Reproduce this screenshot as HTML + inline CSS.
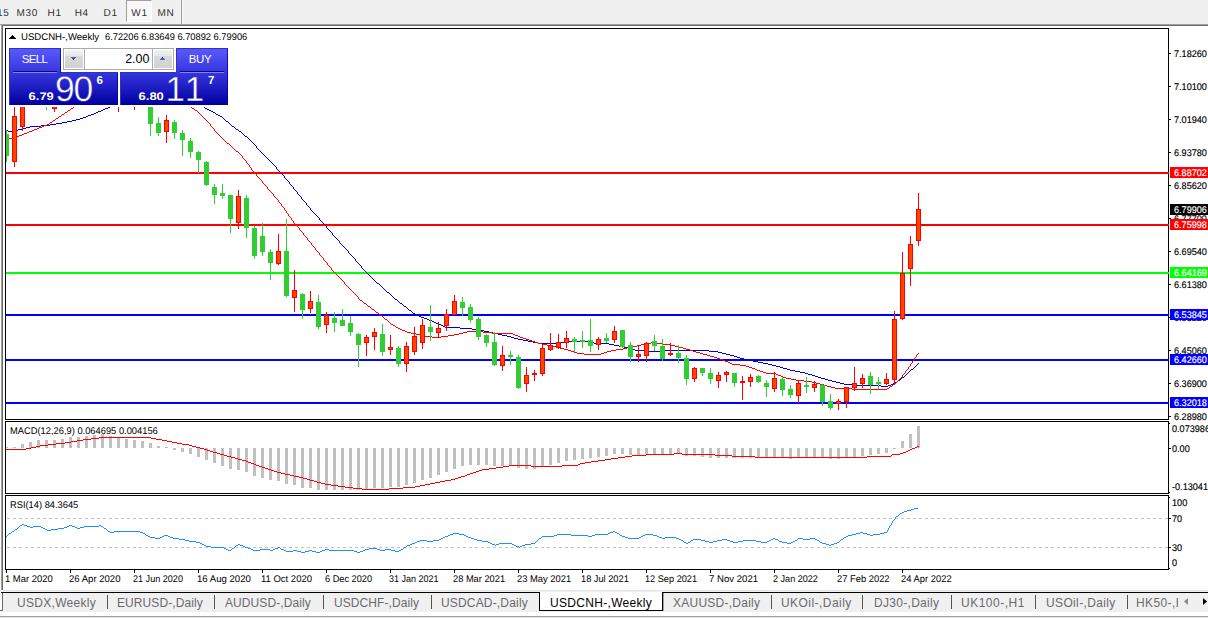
<!DOCTYPE html>
<html lang="en"><head><meta charset="utf-8"><title>USDCNH-,Weekly</title>
<style>
html,body{margin:0;padding:0;}
body{width:1208px;height:618px;overflow:hidden;background:#fff;position:relative;font-family:"Liberation Sans",sans-serif;color:#000;}
.abs{position:absolute;}
.t{position:absolute;white-space:nowrap;line-height:11px;height:11px;font-size:9.7px;transform-origin:0 0;transform:scaleX(0.96);text-rendering:geometricPrecision;margin-top:1px;}
.ax{font-size:9.7px;transform:scaleX(0.94);-webkit-text-stroke:0.15px;}
#toolbar{position:absolute;left:0;top:0;width:1208px;height:24px;background:#f0f0f0;}
.tf{position:absolute;top:8px;letter-spacing:0.7px;font-size:10px;line-height:12px;color:#303030;white-space:nowrap;text-rendering:geometricPrecision;}
.tab{position:absolute;top:596px;height:15px;line-height:15px;font-size:12px;color:#6a6a6e;white-space:nowrap;}
.sep{position:absolute;top:595px;width:1px;height:14px;background:#555;}
.lab{position:absolute;left:1170px;width:38px;height:11px;}
.lab span{position:absolute;left:4px;top:1px;font-size:9.7px;line-height:11px;color:#fff;white-space:nowrap;transform-origin:0 0;transform:scaleX(0.94);text-rendering:geometricPrecision;-webkit-text-stroke:0.15px;}
svg{position:absolute;left:0;top:0;}
</style></head><body>
<div id="toolbar">
<div class="abs" style="left:126px;top:0;width:26px;height:22px;background:#f8f8f8;border-left:1px solid #a0a0a0;border-top:1px solid #a0a0a0;box-sizing:border-box;border-right:1px solid #fff;border-bottom:1px solid #fff;"></div>
<div class="tf" style="left:-3px;">15</div>
<div class="tf" style="left:16.5px;">M30</div>
<div class="tf" style="left:47.5px;">H1</div>
<div class="tf" style="left:74.7px;">H4</div>
<div class="tf" style="left:103.6px;">D1</div>
<div class="tf" style="left:131.3px;">W1</div>
<div class="tf" style="left:157.6px;">MN</div>
<div class="abs" style="left:181px;top:0;width:1px;height:24px;background:#a0a0a0;"></div>
<div class="abs" style="left:182px;top:0;width:1px;height:24px;background:#f8f8f8;"></div>
</div>
<div class="abs" style="left:0;top:24px;width:1208px;height:1px;background:#a0a0a0;"></div>
<div class="abs" style="left:1px;top:25px;width:1207px;height:1px;background:#696969;"></div>
<div class="abs" style="left:0;top:25px;width:1px;height:587px;background:#fbfbfb;"></div>
<div class="abs" style="left:1px;top:25px;width:1px;height:565px;background:#a0a0a0;"></div>
<div class="abs" style="left:2px;top:25px;width:1px;height:565px;background:#696969;"></div>
<div class="abs" style="left:0;top:590px;width:3px;height:2px;background:#f0f0f0;"></div>
<div class="abs" style="left:2px;top:593px;width:1px;height:18px;background:#696969;"></div>
<svg width="1208" height="618" viewBox="0 0 1208 618" shape-rendering="crispEdges">
<defs><clipPath id="cm"><rect x="6" y="29" width="1162" height="390"/></clipPath><clipPath id="c2"><rect x="6" y="422" width="1162" height="71"/></clipPath><clipPath id="c3"><rect x="6" y="496" width="1162" height="73"/></clipPath></defs>
<rect x="6" y="172" width="1162" height="2" fill="#ff0000"/>
<rect x="6" y="224" width="1162" height="2" fill="#ff0000"/>
<rect x="6" y="272" width="1162" height="2" fill="#00ff00"/>
<rect x="6" y="314" width="1162" height="2" fill="#0000ff"/>
<rect x="6" y="359" width="1162" height="2" fill="#0000ff"/>
<rect x="6" y="402" width="1162" height="2" fill="#0000ff"/>
<g clip-path="url(#cm)">
<path d="M123 100.5h3M121 101.5h2M119 102.5h2M117 103.5h2M115 104.5h2M112 105.5h3M110 106.5h2M108 107.5h2M105 108.5h3M103 109.5h2M101 110.5h2M98 111.5h3M96 112.5h2M94 113.5h2M91 114.5h3M88 115.5h3M86 116.5h2M83 117.5h3M80 118.5h3M76 119.5h4M72 120.5h4M67 121.5h5M62 122.5h5M56 123.5h6M50 124.5h6M41 125.5h9M30 126.5h11M26 127.5h4M22 128.5h4M18 129.5h4M6 130.5h2M13 130.5h5M8 131.5h5" fill="none" stroke="#0000cd" stroke-width="1"/>
<path d="M195 102.5h1M196 103.5h2M198 104.5h2M200 105.5h2M202 106.5h2M204 107.5h1M205 108.5h2M207 109.5h2M209 110.5h2M211 111.5h2M213 112.5h2M215 113.5h1M216 114.5h2M218 115.5h2M220 116.5h2M222 117.5h1M223 118.5h1M224 119.5h1M225 120.5h1M226 121.5h2M228 122.5h1M229 123.5h1M230 124.5h1M231 125.5h1M232 126.5h2M234 127.5h1M235 128.5h1M236 129.5h2M238 130.5h1M239 131.5h2M241 132.5h1M242 133.5h1M243 134.5h1M244 135.5h1M245 136.5h2M247 137.5h1M248 138.5h1M249 139.5h1M250 140.5h1M251 141.5h1M252 142.5h1M253 143.5h1M254 144.5h1M255 145.5h1M256 146.5h1M256 147.5h1M257 148.5h1M258 149.5h1M259 150.5h1M260 151.5h1M261 152.5h1M262 153.5h1M263 154.5h1M264 155.5h1M265 156.5h1M266 157.5h1M267 158.5h1M268 159.5h1M269 160.5h1M270 161.5h1M271 162.5h1M272 163.5h1M273 164.5h1M274 165.5h1M275 166.5h1M276 167.5h1M276 168.5h1M277 169.5h1M278 170.5h1M279 171.5h1M280 172.5h1M281 173.5h1M282 174.5h1M283 175.5h1M284 176.5h1M284 177.5h1M285 178.5h1M286 179.5h1M287 180.5h1M288 181.5h1M289 182.5h1M289 183.5h1M290 184.5h1M291 185.5h1M292 186.5h1M293 187.5h1M293 188.5h1M294 189.5h1M295 190.5h1M296 191.5h1M297 192.5h1M297 193.5h1M298 194.5h1M299 195.5h1M300 196.5h1M301 197.5h1M301 198.5h1M302 199.5h1M303 200.5h1M304 201.5h1M305 202.5h1M306 203.5h1M306 204.5h1M307 205.5h1M308 206.5h1M309 207.5h1M310 208.5h1M310 209.5h1M311 210.5h1M312 211.5h1M313 212.5h1M314 213.5h1M315 214.5h1M316 215.5h1M317 216.5h1M318 217.5h1M319 218.5h1M319 219.5h1M320 220.5h1M321 221.5h1M322 222.5h1M323 223.5h1M324 224.5h1M325 225.5h1M326 226.5h1M326 227.5h1M327 228.5h1M328 229.5h1M329 230.5h1M330 231.5h1M331 232.5h1M332 233.5h1M332 234.5h1M333 235.5h1M334 236.5h1M335 237.5h1M336 238.5h1M337 239.5h1M338 240.5h1M339 241.5h1M339 242.5h1M340 243.5h1M341 244.5h1M342 245.5h1M343 246.5h1M344 247.5h1M345 248.5h1M346 249.5h1M347 250.5h1M348 251.5h1M348 252.5h1M349 253.5h1M350 254.5h1M351 255.5h1M352 256.5h1M353 257.5h1M354 258.5h1M355 259.5h1M355 260.5h1M356 261.5h1M357 262.5h1M358 263.5h1M359 264.5h1M360 265.5h1M361 266.5h1M361 267.5h1M362 268.5h1M363 269.5h1M364 270.5h1M365 271.5h1M366 272.5h1M367 273.5h1M368 274.5h1M369 275.5h1M370 276.5h1M371 277.5h1M372 278.5h1M373 279.5h1M374 280.5h1M375 281.5h1M376 282.5h1M377 283.5h2M379 284.5h1M380 285.5h1M381 286.5h1M382 287.5h1M383 288.5h1M384 289.5h1M385 290.5h1M386 291.5h1M387 292.5h2M389 293.5h1M390 294.5h1M391 295.5h1M392 296.5h1M393 297.5h1M394 298.5h1M395 299.5h2M397 300.5h1M398 301.5h1M399 302.5h1M400 303.5h2M402 304.5h1M403 305.5h1M404 306.5h2M406 307.5h1M407 308.5h1M408 309.5h1M409 310.5h2M411 311.5h1M412 312.5h1M413 313.5h2M415 314.5h2M417 315.5h2M419 316.5h2M421 317.5h3M424 318.5h3M427 319.5h2M429 320.5h3M432 321.5h2M434 322.5h2M436 323.5h3M439 324.5h2M441 325.5h2M443 326.5h2M445 327.5h15M460 328.5h12M472 329.5h6M478 330.5h6M484 331.5h5M489 332.5h4M493 333.5h5M498 334.5h4M502 335.5h5M507 336.5h4M511 337.5h3M514 338.5h4M518 339.5h5M523 340.5h5M528 341.5h5M568 341.5h21M533 342.5h5M559 342.5h9M589 342.5h5M538 343.5h21M594 343.5h15M609 344.5h5M614 345.5h5M619 346.5h5M624 347.5h5M629 348.5h4M633 349.5h2M635 350.5h14M660 350.5h49M649 351.5h11M709 351.5h9M718 352.5h4M722 353.5h4M726 354.5h4M730 355.5h4M734 356.5h3M737 357.5h3M740 358.5h4M744 359.5h4M748 360.5h5M753 361.5h5M758 362.5h5M763 363.5h5M918 363.5h1M768 364.5h4M917 364.5h1M772 365.5h4M916 365.5h1M776 366.5h4M915 366.5h1M780 367.5h3M914 367.5h1M783 368.5h4M913 368.5h1M787 369.5h3M911 369.5h2M790 370.5h5M910 370.5h1M795 371.5h5M909 371.5h1M800 372.5h5M908 372.5h1M805 373.5h3M907 373.5h1M808 374.5h4M906 374.5h1M812 375.5h3M905 375.5h1M815 376.5h3M904 376.5h1M818 377.5h3M902 377.5h2M821 378.5h4M901 378.5h1M825 379.5h3M900 379.5h1M828 380.5h4M898 380.5h2M832 381.5h4M897 381.5h1M836 382.5h4M895 382.5h2M840 383.5h4M893 383.5h2M844 384.5h8M891 384.5h2M852 385.5h29M888 385.5h3M881 386.5h7" fill="none" stroke="#0000cd" stroke-width="1"/>
<path d="M89 95.5h2M88 96.5h1M86 97.5h2M85 98.5h1M84 99.5h1M82 100.5h2M81 101.5h1M80 102.5h1M78 103.5h2M77 104.5h1M76 105.5h1M74 106.5h2M73 107.5h1M71 108.5h2M70 109.5h1M68 110.5h2M67 111.5h1M65 112.5h2M64 113.5h1M62 114.5h2M61 115.5h1M59 116.5h2M58 117.5h1M56 118.5h2M55 119.5h1M53 120.5h2M52 121.5h1M50 122.5h2M49 123.5h1M47 124.5h2M44 125.5h3M42 126.5h2M39 127.5h3M37 128.5h2M34 129.5h3M32 130.5h2M29 131.5h3M27 132.5h2M24 133.5h3M22 134.5h2M19 135.5h3M17 136.5h2M14 137.5h3M9 138.5h5" fill="none" stroke="#ff0000" stroke-width="1"/>
<path d="M180 97.5h1M181 98.5h1M182 99.5h1M183 100.5h1M184 101.5h1M185 102.5h1M186 103.5h1M187 104.5h2M189 105.5h1M190 106.5h1M191 107.5h1M192 108.5h2M194 109.5h1M195 110.5h2M197 111.5h1M198 112.5h1M199 113.5h1M200 114.5h1M201 115.5h1M202 116.5h1M203 117.5h1M204 118.5h1M205 119.5h1M206 120.5h1M207 121.5h1M208 122.5h1M209 123.5h1M210 124.5h1M210 125.5h1M211 126.5h1M212 127.5h1M213 128.5h1M214 129.5h1M214 130.5h1M215 131.5h1M216 132.5h1M217 133.5h1M218 134.5h1M219 135.5h1M220 136.5h1M221 137.5h1M222 138.5h1M223 139.5h1M224 140.5h1M225 141.5h1M226 142.5h1M227 143.5h2M229 144.5h1M230 145.5h1M231 146.5h1M232 147.5h1M233 148.5h1M234 149.5h1M235 150.5h1M236 151.5h2M238 152.5h1M239 153.5h1M240 154.5h1M241 155.5h1M242 156.5h1M242 157.5h1M243 158.5h1M244 159.5h1M245 160.5h1M246 161.5h1M246 162.5h1M247 163.5h1M248 164.5h1M249 165.5h1M249 166.5h1M250 167.5h1M251 168.5h1M251 169.5h1M252 170.5h1M253 171.5h1M254 172.5h1M255 173.5h1M256 174.5h1M256 175.5h1M257 176.5h1M258 177.5h1M259 178.5h1M260 179.5h1M261 180.5h1M262 181.5h1M262 182.5h1M263 183.5h1M264 184.5h1M265 185.5h1M266 186.5h1M267 187.5h1M267 188.5h1M268 189.5h1M269 190.5h1M270 191.5h1M271 192.5h1M272 193.5h1M273 194.5h1M273 195.5h1M274 196.5h1M275 197.5h1M276 198.5h1M277 199.5h1M278 200.5h1M278 201.5h1M279 202.5h1M280 203.5h1M281 204.5h1M281 205.5h1M282 206.5h1M283 207.5h1M284 208.5h1M284 209.5h1M285 210.5h1M286 211.5h1M286 212.5h1M287 213.5h1M288 214.5h1M288 215.5h1M289 216.5h1M290 217.5h1M291 218.5h1M291 219.5h1M292 220.5h1M293 221.5h1M293 222.5h1M294 223.5h1M295 224.5h1M296 225.5h1M297 226.5h1M298 227.5h1M299 228.5h1M299 229.5h1M300 230.5h1M301 231.5h1M302 232.5h1M303 233.5h1M303 234.5h1M304 235.5h1M305 236.5h1M306 237.5h1M307 238.5h1M307 239.5h1M308 240.5h1M309 241.5h1M310 242.5h1M311 243.5h1M311 244.5h1M312 245.5h1M313 246.5h1M314 247.5h1M315 248.5h1M315 249.5h1M316 250.5h1M317 251.5h1M318 252.5h1M319 253.5h1M319 254.5h1M320 255.5h1M321 256.5h1M322 257.5h1M323 258.5h1M323 259.5h1M324 260.5h1M325 261.5h1M326 262.5h1M327 263.5h1M327 264.5h1M328 265.5h1M329 266.5h1M330 267.5h1M331 268.5h1M331 269.5h1M332 270.5h1M333 271.5h1M334 272.5h1M335 273.5h1M336 274.5h1M337 275.5h1M338 276.5h1M339 277.5h1M340 278.5h1M341 279.5h1M342 280.5h1M343 281.5h1M344 282.5h1M344 283.5h1M345 284.5h1M346 285.5h1M347 286.5h1M348 287.5h1M349 288.5h1M350 289.5h1M351 290.5h1M352 291.5h1M353 292.5h1M354 293.5h1M355 294.5h1M356 295.5h1M357 296.5h1M358 297.5h1M358 298.5h1M359 299.5h1M360 300.5h2M362 301.5h1M363 302.5h1M364 303.5h2M366 304.5h1M367 305.5h1M368 306.5h2M370 307.5h1M371 308.5h1M372 309.5h2M374 310.5h1M375 311.5h1M376 312.5h2M378 313.5h1M379 314.5h1M380 315.5h2M382 316.5h1M383 317.5h1M384 318.5h1M385 319.5h2M387 320.5h1M388 321.5h1M389 322.5h1M390 323.5h1M391 324.5h2M393 325.5h2M395 326.5h1M396 327.5h2M398 328.5h2M400 329.5h2M402 330.5h3M405 331.5h2M467 331.5h16M407 332.5h4M463 332.5h4M483 332.5h9M411 333.5h5M459 333.5h4M492 333.5h21M416 334.5h4M454 334.5h5M513 334.5h2M420 335.5h5M448 335.5h6M515 335.5h3M425 336.5h7M441 336.5h7M518 336.5h2M432 337.5h9M520 337.5h3M523 338.5h3M526 339.5h3M529 340.5h3M532 341.5h3M535 342.5h3M651 342.5h1M538 343.5h4M646 343.5h5M652 343.5h11M542 344.5h5M641 344.5h5M663 344.5h7M547 345.5h4M637 345.5h4M670 345.5h5M551 346.5h5M632 346.5h5M675 346.5h4M556 347.5h4M627 347.5h5M679 347.5h4M560 348.5h4M623 348.5h4M683 348.5h3M564 349.5h4M616 349.5h7M686 349.5h4M568 350.5h3M611 350.5h5M690 350.5h3M571 351.5h3M607 351.5h4M693 351.5h3M574 352.5h3M604 352.5h3M696 352.5h4M577 353.5h7M601 353.5h3M700 353.5h3M918 353.5h1M584 354.5h17M703 354.5h4M917 354.5h1M707 355.5h3M916 355.5h1M710 356.5h4M916 356.5h1M714 357.5h3M915 357.5h1M717 358.5h3M914 358.5h1M720 359.5h3M914 359.5h1M723 360.5h2M913 360.5h1M725 361.5h3M912 361.5h1M728 362.5h2M912 362.5h1M730 363.5h2M911 363.5h1M732 364.5h8M910 364.5h1M740 365.5h6M910 365.5h1M746 366.5h3M909 366.5h1M749 367.5h3M908 367.5h1M752 368.5h3M908 368.5h1M755 369.5h2M907 369.5h1M757 370.5h3M906 370.5h1M760 371.5h3M905 371.5h1M763 372.5h3M905 372.5h1M766 373.5h10M904 373.5h1M776 374.5h2M903 374.5h1M778 375.5h3M902 375.5h1M781 376.5h2M902 376.5h1M783 377.5h3M901 377.5h1M786 378.5h5M900 378.5h1M791 379.5h5M899 379.5h1M796 380.5h8M898 380.5h1M804 381.5h8M897 381.5h1M812 382.5h4M896 382.5h1M816 383.5h4M895 383.5h1M820 384.5h4M893 384.5h2M824 385.5h3M892 385.5h1M827 386.5h4M890 386.5h2M831 387.5h4M889 387.5h1M835 388.5h17M887 388.5h2M852 389.5h35" fill="none" stroke="#ff0000" stroke-width="1"/>
<rect x="6" y="130" width="1" height="32" fill="#32cd32"/>
<rect x="4" y="134" width="5" height="22" fill="#32cd32"/>
<rect x="14" y="100" width="1" height="67" fill="#ff0000"/>
<rect x="12" y="116" width="5" height="46" fill="#ff0000"/>
<rect x="13" y="117" width="3" height="44" fill="#ff4500"/>
<rect x="22" y="100" width="1" height="31" fill="#ff0000"/>
<rect x="20" y="100" width="5" height="27" fill="#ff0000"/>
<rect x="21" y="101" width="3" height="25" fill="#ff4500"/>
<rect x="46" y="100" width="1" height="10" fill="#32cd32"/>
<rect x="54" y="100" width="1" height="12" fill="#ff0000"/>
<rect x="52" y="100" width="5" height="9" fill="#ff0000"/>
<rect x="53" y="101" width="3" height="7" fill="#ff4500"/>
<rect x="118" y="100" width="1" height="12" fill="#ff0000"/>
<rect x="134" y="100" width="1" height="10" fill="#ff0000"/>
<rect x="150" y="100" width="1" height="36" fill="#32cd32"/>
<rect x="148" y="100" width="5" height="24" fill="#32cd32"/>
<rect x="158" y="117" width="1" height="19" fill="#32cd32"/>
<rect x="156" y="123" width="5" height="10" fill="#32cd32"/>
<rect x="166" y="115" width="1" height="28" fill="#ff0000"/>
<rect x="164" y="120" width="5" height="12" fill="#ff0000"/>
<rect x="165" y="121" width="3" height="10" fill="#ff4500"/>
<rect x="174" y="120" width="1" height="19" fill="#32cd32"/>
<rect x="172" y="122" width="5" height="11" fill="#32cd32"/>
<rect x="182" y="130" width="1" height="26" fill="#32cd32"/>
<rect x="180" y="133" width="5" height="7" fill="#32cd32"/>
<rect x="190" y="138" width="1" height="20" fill="#32cd32"/>
<rect x="188" y="141" width="5" height="11" fill="#32cd32"/>
<rect x="198" y="151" width="1" height="22" fill="#32cd32"/>
<rect x="196" y="152" width="5" height="8" fill="#32cd32"/>
<rect x="206" y="161" width="1" height="25" fill="#32cd32"/>
<rect x="204" y="162" width="5" height="23" fill="#32cd32"/>
<rect x="214" y="184" width="1" height="20" fill="#32cd32"/>
<rect x="212" y="187" width="5" height="8" fill="#32cd32"/>
<rect x="222" y="184" width="1" height="15" fill="#32cd32"/>
<rect x="220" y="193" width="5" height="3" fill="#32cd32"/>
<rect x="230" y="195" width="1" height="38" fill="#32cd32"/>
<rect x="228" y="195" width="5" height="24" fill="#32cd32"/>
<rect x="238" y="190" width="1" height="39" fill="#ff0000"/>
<rect x="236" y="196" width="5" height="27" fill="#ff0000"/>
<rect x="237" y="197" width="3" height="25" fill="#ff4500"/>
<rect x="246" y="195" width="1" height="43" fill="#32cd32"/>
<rect x="244" y="198" width="5" height="30" fill="#32cd32"/>
<rect x="254" y="226" width="1" height="33" fill="#32cd32"/>
<rect x="252" y="228" width="5" height="28" fill="#32cd32"/>
<rect x="262" y="223" width="1" height="33" fill="#32cd32"/>
<rect x="260" y="236" width="5" height="16" fill="#32cd32"/>
<rect x="270" y="249" width="1" height="31" fill="#32cd32"/>
<rect x="268" y="252" width="5" height="11" fill="#32cd32"/>
<rect x="278" y="234" width="1" height="31" fill="#ff0000"/>
<rect x="276" y="251" width="5" height="13" fill="#ff0000"/>
<rect x="277" y="252" width="3" height="11" fill="#ff4500"/>
<rect x="286" y="219" width="1" height="78" fill="#32cd32"/>
<rect x="284" y="251" width="5" height="45" fill="#32cd32"/>
<rect x="294" y="270" width="1" height="42" fill="#ff0000"/>
<rect x="292" y="290" width="5" height="8" fill="#ff0000"/>
<rect x="293" y="291" width="3" height="6" fill="#ff4500"/>
<rect x="302" y="293" width="1" height="26" fill="#32cd32"/>
<rect x="300" y="294" width="5" height="16" fill="#32cd32"/>
<rect x="310" y="291" width="1" height="22" fill="#ff0000"/>
<rect x="308" y="301" width="5" height="8" fill="#ff0000"/>
<rect x="309" y="302" width="3" height="6" fill="#ff4500"/>
<rect x="318" y="295" width="1" height="34" fill="#32cd32"/>
<rect x="316" y="302" width="5" height="25" fill="#32cd32"/>
<rect x="326" y="312" width="1" height="21" fill="#ff0000"/>
<rect x="324" y="315" width="5" height="10" fill="#ff0000"/>
<rect x="325" y="316" width="3" height="8" fill="#ff4500"/>
<rect x="334" y="312" width="1" height="20" fill="#32cd32"/>
<rect x="332" y="318" width="5" height="5" fill="#32cd32"/>
<rect x="342" y="309" width="1" height="17" fill="#32cd32"/>
<rect x="340" y="320" width="5" height="6" fill="#32cd32"/>
<rect x="350" y="316" width="1" height="20" fill="#32cd32"/>
<rect x="348" y="323" width="5" height="9" fill="#32cd32"/>
<rect x="358" y="333" width="1" height="34" fill="#32cd32"/>
<rect x="356" y="334" width="5" height="11" fill="#32cd32"/>
<rect x="366" y="335" width="1" height="21" fill="#ff0000"/>
<rect x="364" y="337" width="5" height="6" fill="#ff0000"/>
<rect x="365" y="338" width="3" height="4" fill="#ff4500"/>
<rect x="374" y="328" width="1" height="22" fill="#ff0000"/>
<rect x="372" y="332" width="5" height="5" fill="#ff0000"/>
<rect x="373" y="333" width="3" height="3" fill="#ff4500"/>
<rect x="382" y="324" width="1" height="32" fill="#32cd32"/>
<rect x="380" y="334" width="5" height="18" fill="#32cd32"/>
<rect x="390" y="335" width="1" height="20" fill="#ff0000"/>
<rect x="388" y="347" width="5" height="3" fill="#ff0000"/>
<rect x="389" y="348" width="3" height="1" fill="#ff4500"/>
<rect x="398" y="346" width="1" height="21" fill="#32cd32"/>
<rect x="396" y="348" width="5" height="16" fill="#32cd32"/>
<rect x="406" y="342" width="1" height="30" fill="#ff0000"/>
<rect x="404" y="346" width="5" height="18" fill="#ff0000"/>
<rect x="405" y="347" width="3" height="16" fill="#ff4500"/>
<rect x="414" y="327" width="1" height="28" fill="#ff0000"/>
<rect x="412" y="336" width="5" height="16" fill="#ff0000"/>
<rect x="413" y="337" width="3" height="14" fill="#ff4500"/>
<rect x="422" y="319" width="1" height="30" fill="#ff0000"/>
<rect x="420" y="325" width="5" height="18" fill="#ff0000"/>
<rect x="421" y="326" width="3" height="16" fill="#ff4500"/>
<rect x="430" y="305" width="1" height="36" fill="#32cd32"/>
<rect x="428" y="327" width="5" height="5" fill="#32cd32"/>
<rect x="438" y="322" width="1" height="16" fill="#ff0000"/>
<rect x="436" y="328" width="5" height="5" fill="#ff0000"/>
<rect x="437" y="329" width="3" height="3" fill="#ff4500"/>
<rect x="446" y="309" width="1" height="22" fill="#ff0000"/>
<rect x="444" y="314" width="5" height="12" fill="#ff0000"/>
<rect x="445" y="315" width="3" height="10" fill="#ff4500"/>
<rect x="454" y="295" width="1" height="20" fill="#ff0000"/>
<rect x="452" y="301" width="5" height="14" fill="#ff0000"/>
<rect x="453" y="302" width="3" height="12" fill="#ff4500"/>
<rect x="462" y="297" width="1" height="19" fill="#32cd32"/>
<rect x="460" y="302" width="5" height="6" fill="#32cd32"/>
<rect x="470" y="304" width="1" height="19" fill="#32cd32"/>
<rect x="468" y="307" width="5" height="13" fill="#32cd32"/>
<rect x="478" y="317" width="1" height="23" fill="#32cd32"/>
<rect x="476" y="319" width="5" height="18" fill="#32cd32"/>
<rect x="486" y="334" width="1" height="13" fill="#32cd32"/>
<rect x="484" y="335" width="5" height="8" fill="#32cd32"/>
<rect x="494" y="332" width="1" height="34" fill="#32cd32"/>
<rect x="492" y="342" width="5" height="23" fill="#32cd32"/>
<rect x="502" y="346" width="1" height="25" fill="#ff0000"/>
<rect x="500" y="355" width="5" height="11" fill="#ff0000"/>
<rect x="501" y="356" width="3" height="9" fill="#ff4500"/>
<rect x="510" y="351" width="1" height="14" fill="#32cd32"/>
<rect x="508" y="355" width="5" height="2" fill="#32cd32"/>
<rect x="518" y="355" width="1" height="34" fill="#32cd32"/>
<rect x="516" y="357" width="5" height="31" fill="#32cd32"/>
<rect x="526" y="367" width="1" height="25" fill="#ff0000"/>
<rect x="524" y="375" width="5" height="9" fill="#ff0000"/>
<rect x="525" y="376" width="3" height="7" fill="#ff4500"/>
<rect x="534" y="370" width="1" height="11" fill="#ff0000"/>
<rect x="532" y="373" width="5" height="2" fill="#ff0000"/>
<rect x="542" y="345" width="1" height="31" fill="#ff0000"/>
<rect x="540" y="348" width="5" height="26" fill="#ff0000"/>
<rect x="541" y="349" width="3" height="24" fill="#ff4500"/>
<rect x="550" y="333" width="1" height="18" fill="#ff0000"/>
<rect x="548" y="345" width="5" height="5" fill="#ff0000"/>
<rect x="549" y="346" width="3" height="3" fill="#ff4500"/>
<rect x="558" y="334" width="1" height="15" fill="#ff0000"/>
<rect x="556" y="342" width="5" height="6" fill="#ff0000"/>
<rect x="557" y="343" width="3" height="4" fill="#ff4500"/>
<rect x="566" y="331" width="1" height="17" fill="#ff0000"/>
<rect x="564" y="338" width="5" height="5" fill="#ff0000"/>
<rect x="565" y="339" width="3" height="3" fill="#ff4500"/>
<rect x="574" y="337" width="1" height="15" fill="#32cd32"/>
<rect x="572" y="339" width="5" height="3" fill="#32cd32"/>
<rect x="582" y="331" width="1" height="17" fill="#32cd32"/>
<rect x="580" y="340" width="5" height="2" fill="#32cd32"/>
<rect x="590" y="319" width="1" height="33" fill="#32cd32"/>
<rect x="588" y="340" width="5" height="6" fill="#32cd32"/>
<rect x="598" y="337" width="1" height="13" fill="#ff0000"/>
<rect x="596" y="339" width="5" height="6" fill="#ff0000"/>
<rect x="597" y="340" width="3" height="4" fill="#ff4500"/>
<rect x="606" y="333" width="1" height="10" fill="#32cd32"/>
<rect x="604" y="338" width="5" height="3" fill="#32cd32"/>
<rect x="614" y="326" width="1" height="17" fill="#ff0000"/>
<rect x="612" y="331" width="5" height="9" fill="#ff0000"/>
<rect x="613" y="332" width="3" height="7" fill="#ff4500"/>
<rect x="622" y="330" width="1" height="18" fill="#32cd32"/>
<rect x="620" y="330" width="5" height="17" fill="#32cd32"/>
<rect x="630" y="342" width="1" height="20" fill="#32cd32"/>
<rect x="628" y="345" width="5" height="12" fill="#32cd32"/>
<rect x="638" y="345" width="1" height="17" fill="#ff0000"/>
<rect x="636" y="354" width="5" height="3" fill="#ff0000"/>
<rect x="637" y="355" width="3" height="1" fill="#ff4500"/>
<rect x="646" y="342" width="1" height="20" fill="#ff0000"/>
<rect x="644" y="343" width="5" height="13" fill="#ff0000"/>
<rect x="645" y="344" width="3" height="11" fill="#ff4500"/>
<rect x="654" y="335" width="1" height="16" fill="#32cd32"/>
<rect x="652" y="341" width="5" height="5" fill="#32cd32"/>
<rect x="662" y="339" width="1" height="22" fill="#32cd32"/>
<rect x="660" y="346" width="5" height="13" fill="#32cd32"/>
<rect x="670" y="343" width="1" height="13" fill="#ff0000"/>
<rect x="668" y="353" width="5" height="2" fill="#ff0000"/>
<rect x="678" y="345" width="1" height="18" fill="#32cd32"/>
<rect x="676" y="353" width="5" height="5" fill="#32cd32"/>
<rect x="686" y="355" width="1" height="30" fill="#32cd32"/>
<rect x="684" y="358" width="5" height="21" fill="#32cd32"/>
<rect x="694" y="367" width="1" height="15" fill="#ff0000"/>
<rect x="692" y="368" width="5" height="11" fill="#ff0000"/>
<rect x="693" y="369" width="3" height="9" fill="#ff4500"/>
<rect x="702" y="368" width="1" height="8" fill="#32cd32"/>
<rect x="700" y="368" width="5" height="5" fill="#32cd32"/>
<rect x="710" y="368" width="1" height="16" fill="#32cd32"/>
<rect x="708" y="373" width="5" height="6" fill="#32cd32"/>
<rect x="718" y="372" width="1" height="16" fill="#ff0000"/>
<rect x="716" y="375" width="5" height="6" fill="#ff0000"/>
<rect x="717" y="376" width="3" height="4" fill="#ff4500"/>
<rect x="726" y="371" width="1" height="11" fill="#ff0000"/>
<rect x="724" y="372" width="5" height="3" fill="#ff0000"/>
<rect x="725" y="373" width="3" height="1" fill="#ff4500"/>
<rect x="734" y="373" width="1" height="14" fill="#32cd32"/>
<rect x="732" y="373" width="5" height="10" fill="#32cd32"/>
<rect x="742" y="376" width="1" height="24" fill="#ff0000"/>
<rect x="740" y="381" width="5" height="2" fill="#ff0000"/>
<rect x="750" y="374" width="1" height="13" fill="#ff0000"/>
<rect x="748" y="377" width="5" height="5" fill="#ff0000"/>
<rect x="749" y="378" width="3" height="3" fill="#ff4500"/>
<rect x="758" y="375" width="1" height="8" fill="#32cd32"/>
<rect x="756" y="376" width="5" height="6" fill="#32cd32"/>
<rect x="766" y="380" width="1" height="17" fill="#32cd32"/>
<rect x="764" y="383" width="5" height="4" fill="#32cd32"/>
<rect x="774" y="372" width="1" height="20" fill="#ff0000"/>
<rect x="772" y="378" width="5" height="11" fill="#ff0000"/>
<rect x="773" y="379" width="3" height="9" fill="#ff4500"/>
<rect x="782" y="377" width="1" height="19" fill="#32cd32"/>
<rect x="780" y="379" width="5" height="11" fill="#32cd32"/>
<rect x="790" y="385" width="1" height="13" fill="#32cd32"/>
<rect x="788" y="389" width="5" height="6" fill="#32cd32"/>
<rect x="798" y="380" width="1" height="23" fill="#ff0000"/>
<rect x="796" y="383" width="5" height="13" fill="#ff0000"/>
<rect x="797" y="384" width="3" height="11" fill="#ff4500"/>
<rect x="806" y="377" width="1" height="16" fill="#32cd32"/>
<rect x="804" y="385" width="5" height="2" fill="#32cd32"/>
<rect x="814" y="381" width="1" height="11" fill="#ff0000"/>
<rect x="812" y="384" width="5" height="4" fill="#ff0000"/>
<rect x="813" y="385" width="3" height="2" fill="#ff4500"/>
<rect x="822" y="384" width="1" height="22" fill="#32cd32"/>
<rect x="820" y="385" width="5" height="17" fill="#32cd32"/>
<rect x="830" y="394" width="1" height="16" fill="#32cd32"/>
<rect x="828" y="401" width="5" height="7" fill="#32cd32"/>
<rect x="838" y="399" width="1" height="11" fill="#ff0000"/>
<rect x="836" y="401" width="5" height="3" fill="#ff0000"/>
<rect x="837" y="402" width="3" height="1" fill="#ff4500"/>
<rect x="846" y="387" width="1" height="21" fill="#ff0000"/>
<rect x="844" y="387" width="5" height="15" fill="#ff0000"/>
<rect x="845" y="388" width="3" height="13" fill="#ff4500"/>
<rect x="854" y="367" width="1" height="24" fill="#ff0000"/>
<rect x="852" y="383" width="5" height="5" fill="#ff0000"/>
<rect x="853" y="384" width="3" height="3" fill="#ff4500"/>
<rect x="862" y="374" width="1" height="14" fill="#ff0000"/>
<rect x="860" y="378" width="5" height="6" fill="#ff0000"/>
<rect x="861" y="379" width="3" height="4" fill="#ff4500"/>
<rect x="870" y="372" width="1" height="22" fill="#32cd32"/>
<rect x="868" y="376" width="5" height="9" fill="#32cd32"/>
<rect x="878" y="377" width="1" height="12" fill="#32cd32"/>
<rect x="876" y="382" width="5" height="2" fill="#32cd32"/>
<rect x="886" y="373" width="1" height="12" fill="#ff0000"/>
<rect x="884" y="379" width="5" height="5" fill="#ff0000"/>
<rect x="885" y="380" width="3" height="3" fill="#ff4500"/>
<rect x="894" y="311" width="1" height="73" fill="#ff0000"/>
<rect x="892" y="319" width="5" height="61" fill="#ff0000"/>
<rect x="893" y="320" width="3" height="59" fill="#ff4500"/>
<rect x="902" y="252" width="1" height="68" fill="#ff0000"/>
<rect x="900" y="273" width="5" height="46" fill="#ff0000"/>
<rect x="901" y="274" width="3" height="44" fill="#ff4500"/>
<rect x="910" y="236" width="1" height="50" fill="#ff0000"/>
<rect x="908" y="244" width="5" height="25" fill="#ff0000"/>
<rect x="909" y="245" width="3" height="23" fill="#ff4500"/>
<rect x="918" y="193" width="1" height="53" fill="#ff0000"/>
<rect x="916" y="209" width="5" height="32" fill="#ff0000"/>
<rect x="917" y="210" width="3" height="30" fill="#ff4500"/>
</g>
<g clip-path="url(#c2)">
<rect x="21" y="444" width="3" height="4" fill="#c0c0c0"/>
<rect x="29" y="442" width="3" height="6" fill="#c0c0c0"/>
<rect x="37" y="440" width="3" height="8" fill="#c0c0c0"/>
<rect x="45" y="440" width="3" height="8" fill="#c0c0c0"/>
<rect x="53" y="440" width="3" height="8" fill="#c0c0c0"/>
<rect x="61" y="439" width="3" height="9" fill="#c0c0c0"/>
<rect x="69" y="437" width="3" height="11" fill="#c0c0c0"/>
<rect x="77" y="437" width="3" height="11" fill="#c0c0c0"/>
<rect x="85" y="436" width="3" height="12" fill="#c0c0c0"/>
<rect x="93" y="435" width="3" height="13" fill="#c0c0c0"/>
<rect x="101" y="434" width="3" height="14" fill="#c0c0c0"/>
<rect x="109" y="436" width="3" height="12" fill="#c0c0c0"/>
<rect x="117" y="438" width="3" height="10" fill="#c0c0c0"/>
<rect x="125" y="439" width="3" height="9" fill="#c0c0c0"/>
<rect x="133" y="440" width="3" height="8" fill="#c0c0c0"/>
<rect x="141" y="441" width="3" height="7" fill="#c0c0c0"/>
<rect x="149" y="443" width="3" height="5" fill="#c0c0c0"/>
<rect x="157" y="446" width="3" height="2" fill="#c0c0c0"/>
<rect x="165" y="447" width="3" height="1" fill="#c0c0c0"/>
<rect x="5" y="447" width="3" height="1" fill="#c0c0c0"/>
<rect x="13" y="447" width="3" height="1" fill="#c0c0c0"/>
<rect x="901" y="441" width="3" height="7" fill="#c0c0c0"/>
<rect x="909" y="434" width="3" height="14" fill="#c0c0c0"/>
<rect x="917" y="426" width="3" height="22" fill="#c0c0c0"/>
<rect x="173" y="448" width="3" height="2" fill="#c0c0c0"/>
<rect x="181" y="448" width="3" height="4" fill="#c0c0c0"/>
<rect x="189" y="448" width="3" height="6" fill="#c0c0c0"/>
<rect x="197" y="448" width="3" height="9" fill="#c0c0c0"/>
<rect x="205" y="448" width="3" height="12" fill="#c0c0c0"/>
<rect x="213" y="448" width="3" height="15" fill="#c0c0c0"/>
<rect x="221" y="448" width="3" height="18" fill="#c0c0c0"/>
<rect x="229" y="448" width="3" height="21" fill="#c0c0c0"/>
<rect x="237" y="448" width="3" height="22" fill="#c0c0c0"/>
<rect x="245" y="448" width="3" height="24" fill="#c0c0c0"/>
<rect x="253" y="448" width="3" height="28" fill="#c0c0c0"/>
<rect x="261" y="448" width="3" height="30" fill="#c0c0c0"/>
<rect x="269" y="448" width="3" height="32" fill="#c0c0c0"/>
<rect x="277" y="448" width="3" height="33" fill="#c0c0c0"/>
<rect x="285" y="448" width="3" height="36" fill="#c0c0c0"/>
<rect x="293" y="448" width="3" height="37" fill="#c0c0c0"/>
<rect x="301" y="448" width="3" height="40" fill="#c0c0c0"/>
<rect x="309" y="448" width="3" height="40" fill="#c0c0c0"/>
<rect x="317" y="448" width="3" height="42" fill="#c0c0c0"/>
<rect x="325" y="448" width="3" height="42" fill="#c0c0c0"/>
<rect x="333" y="448" width="3" height="42" fill="#c0c0c0"/>
<rect x="341" y="448" width="3" height="42" fill="#c0c0c0"/>
<rect x="349" y="448" width="3" height="42" fill="#c0c0c0"/>
<rect x="357" y="448" width="3" height="42" fill="#c0c0c0"/>
<rect x="365" y="448" width="3" height="41" fill="#c0c0c0"/>
<rect x="373" y="448" width="3" height="40" fill="#c0c0c0"/>
<rect x="381" y="448" width="3" height="40" fill="#c0c0c0"/>
<rect x="389" y="448" width="3" height="39" fill="#c0c0c0"/>
<rect x="397" y="448" width="3" height="39" fill="#c0c0c0"/>
<rect x="405" y="448" width="3" height="37" fill="#c0c0c0"/>
<rect x="413" y="448" width="3" height="35" fill="#c0c0c0"/>
<rect x="421" y="448" width="3" height="32" fill="#c0c0c0"/>
<rect x="429" y="448" width="3" height="30" fill="#c0c0c0"/>
<rect x="437" y="448" width="3" height="27" fill="#c0c0c0"/>
<rect x="445" y="448" width="3" height="24" fill="#c0c0c0"/>
<rect x="453" y="448" width="3" height="21" fill="#c0c0c0"/>
<rect x="461" y="448" width="3" height="18" fill="#c0c0c0"/>
<rect x="469" y="448" width="3" height="17" fill="#c0c0c0"/>
<rect x="477" y="448" width="3" height="17" fill="#c0c0c0"/>
<rect x="485" y="448" width="3" height="17" fill="#c0c0c0"/>
<rect x="493" y="448" width="3" height="18" fill="#c0c0c0"/>
<rect x="501" y="448" width="3" height="18" fill="#c0c0c0"/>
<rect x="509" y="448" width="3" height="18" fill="#c0c0c0"/>
<rect x="517" y="448" width="3" height="20" fill="#c0c0c0"/>
<rect x="525" y="448" width="3" height="21" fill="#c0c0c0"/>
<rect x="533" y="448" width="3" height="21" fill="#c0c0c0"/>
<rect x="541" y="448" width="3" height="18" fill="#c0c0c0"/>
<rect x="549" y="448" width="3" height="17" fill="#c0c0c0"/>
<rect x="557" y="448" width="3" height="15" fill="#c0c0c0"/>
<rect x="565" y="448" width="3" height="13" fill="#c0c0c0"/>
<rect x="573" y="448" width="3" height="12" fill="#c0c0c0"/>
<rect x="581" y="448" width="3" height="11" fill="#c0c0c0"/>
<rect x="589" y="448" width="3" height="10" fill="#c0c0c0"/>
<rect x="597" y="448" width="3" height="9" fill="#c0c0c0"/>
<rect x="605" y="448" width="3" height="8" fill="#c0c0c0"/>
<rect x="613" y="448" width="3" height="6" fill="#c0c0c0"/>
<rect x="621" y="448" width="3" height="6" fill="#c0c0c0"/>
<rect x="629" y="448" width="3" height="7" fill="#c0c0c0"/>
<rect x="637" y="448" width="3" height="8" fill="#c0c0c0"/>
<rect x="645" y="448" width="3" height="6" fill="#c0c0c0"/>
<rect x="653" y="448" width="3" height="7" fill="#c0c0c0"/>
<rect x="661" y="448" width="3" height="7" fill="#c0c0c0"/>
<rect x="669" y="448" width="3" height="7" fill="#c0c0c0"/>
<rect x="677" y="448" width="3" height="6" fill="#c0c0c0"/>
<rect x="685" y="448" width="3" height="8" fill="#c0c0c0"/>
<rect x="693" y="448" width="3" height="8" fill="#c0c0c0"/>
<rect x="701" y="448" width="3" height="9" fill="#c0c0c0"/>
<rect x="709" y="448" width="3" height="10" fill="#c0c0c0"/>
<rect x="717" y="448" width="3" height="10" fill="#c0c0c0"/>
<rect x="725" y="448" width="3" height="10" fill="#c0c0c0"/>
<rect x="733" y="448" width="3" height="10" fill="#c0c0c0"/>
<rect x="741" y="448" width="3" height="10" fill="#c0c0c0"/>
<rect x="749" y="448" width="3" height="10" fill="#c0c0c0"/>
<rect x="757" y="448" width="3" height="10" fill="#c0c0c0"/>
<rect x="765" y="448" width="3" height="10" fill="#c0c0c0"/>
<rect x="773" y="448" width="3" height="10" fill="#c0c0c0"/>
<rect x="781" y="448" width="3" height="10" fill="#c0c0c0"/>
<rect x="789" y="448" width="3" height="11" fill="#c0c0c0"/>
<rect x="797" y="448" width="3" height="10" fill="#c0c0c0"/>
<rect x="805" y="448" width="3" height="10" fill="#c0c0c0"/>
<rect x="813" y="448" width="3" height="10" fill="#c0c0c0"/>
<rect x="821" y="448" width="3" height="10" fill="#c0c0c0"/>
<rect x="829" y="448" width="3" height="11" fill="#c0c0c0"/>
<rect x="837" y="448" width="3" height="11" fill="#c0c0c0"/>
<rect x="845" y="448" width="3" height="10" fill="#c0c0c0"/>
<rect x="853" y="448" width="3" height="10" fill="#c0c0c0"/>
<rect x="861" y="448" width="3" height="8" fill="#c0c0c0"/>
<rect x="869" y="448" width="3" height="7" fill="#c0c0c0"/>
<rect x="877" y="448" width="3" height="6" fill="#c0c0c0"/>
<rect x="885" y="448" width="3" height="5" fill="#c0c0c0"/>
<rect x="893" y="448" width="3" height="1" fill="#c0c0c0"/>
<path d="M99 437.5h52M91 438.5h8M151 438.5h5M83 439.5h8M156 439.5h6M77 440.5h6M162 440.5h5M71 441.5h6M167 441.5h5M65 442.5h6M172 442.5h5M56 443.5h9M177 443.5h5M48 444.5h8M182 444.5h7M40 445.5h8M189 445.5h3M36 446.5h4M192 446.5h4M917 446.5h2M31 447.5h5M196 447.5h4M915 447.5h2M26 448.5h5M200 448.5h4M912 448.5h3M5 449.5h21M204 449.5h3M910 449.5h2M207 450.5h3M908 450.5h2M210 451.5h3M906 451.5h2M213 452.5h4M903 452.5h3M217 453.5h3M674 453.5h8M900 453.5h3M220 454.5h4M646 454.5h28M682 454.5h33M892 454.5h8M224 455.5h3M632 455.5h14M715 455.5h17M891 455.5h1M227 456.5h4M625 456.5h7M732 456.5h23M867 456.5h24M231 457.5h4M618 457.5h7M755 457.5h112M235 458.5h3M611 458.5h7M238 459.5h4M605 459.5h6M242 460.5h4M598 460.5h7M246 461.5h2M591 461.5h7M248 462.5h3M585 462.5h6M251 463.5h3M580 463.5h5M254 464.5h2M578 464.5h2M256 465.5h3M509 465.5h22M562 465.5h16M259 466.5h3M503 466.5h6M531 466.5h31M262 467.5h3M496 467.5h7M265 468.5h3M489 468.5h7M268 469.5h3M482 469.5h7M271 470.5h3M479 470.5h3M274 471.5h3M476 471.5h3M277 472.5h4M473 472.5h3M281 473.5h4M470 473.5h3M285 474.5h5M467 474.5h3M290 475.5h4M465 475.5h2M294 476.5h5M461 476.5h4M299 477.5h4M458 477.5h3M303 478.5h4M455 478.5h3M307 479.5h3M451 479.5h4M310 480.5h4M445 480.5h6M314 481.5h3M440 481.5h5M317 482.5h4M435 482.5h5M321 483.5h4M430 483.5h5M325 484.5h6M425 484.5h5M331 485.5h7M420 485.5h5M338 486.5h7M415 486.5h5M345 487.5h8M403 487.5h12M353 488.5h9M389 488.5h14M362 489.5h27" fill="none" stroke="#ff0000" stroke-width="1"/>
</g>
<g clip-path="url(#c3)">
<line x1="7" y1="518.5" x2="1168" y2="518.5" stroke="#c0c0c0" stroke-width="1" stroke-dasharray="3,3"/>
<line x1="7" y1="547.5" x2="1168" y2="547.5" stroke="#c0c0c0" stroke-width="1" stroke-dasharray="3,3"/>
<path d="M914 508.5h4M911 509.5h3M907 510.5h4M904 511.5h3M902 512.5h2M900 513.5h2M899 514.5h1M898 515.5h1M896 516.5h2M895 517.5h1M895 518.5h1M894 519.5h1M893 520.5h1M892 521.5h1M892 522.5h1M891 523.5h1M22 524.5h2M891 524.5h1M20 525.5h2M24 525.5h3M69 525.5h3M99 525.5h2M890 525.5h1M19 526.5h1M27 526.5h3M33 526.5h8M67 526.5h2M72 526.5h3M84 526.5h15M101 526.5h2M889 526.5h1M18 527.5h1M30 527.5h3M41 527.5h2M64 527.5h3M75 527.5h2M80 527.5h4M103 527.5h1M889 527.5h1M17 528.5h1M43 528.5h2M58 528.5h6M77 528.5h3M104 528.5h2M888 528.5h1M15 529.5h2M45 529.5h2M51 529.5h7M106 529.5h1M888 529.5h1M14 530.5h1M47 530.5h4M107 530.5h1M887 530.5h1M12 531.5h2M108 531.5h2M114 531.5h26M613 531.5h2M887 531.5h1M11 532.5h1M110 532.5h4M140 532.5h3M610 532.5h3M615 532.5h2M860 532.5h3M884 532.5h3M9 533.5h2M143 533.5h2M453 533.5h6M608 533.5h2M617 533.5h2M856 533.5h4M863 533.5h4M880 533.5h4M8 534.5h1M145 534.5h1M450 534.5h3M459 534.5h5M557 534.5h14M595 534.5h13M619 534.5h1M645 534.5h8M852 534.5h4M867 534.5h3M873 534.5h7M7 535.5h1M146 535.5h2M164 535.5h4M448 535.5h2M464 535.5h2M554 535.5h3M571 535.5h17M592 535.5h3M620 535.5h2M643 535.5h2M653 535.5h4M848 535.5h4M870 535.5h3M5 536.5h2M148 536.5h2M162 536.5h2M168 536.5h2M445 536.5h3M466 536.5h2M542 536.5h12M588 536.5h4M622 536.5h3M641 536.5h2M657 536.5h2M846 536.5h2M150 537.5h5M160 537.5h2M170 537.5h3M443 537.5h2M468 537.5h3M541 537.5h1M625 537.5h3M639 537.5h2M659 537.5h3M665 537.5h11M844 537.5h2M155 538.5h5M173 538.5h6M441 538.5h2M471 538.5h3M539 538.5h2M628 538.5h11M662 538.5h3M676 538.5h3M773 538.5h2M798 538.5h5M810 538.5h5M843 538.5h1M179 539.5h6M439 539.5h2M474 539.5h3M538 539.5h1M679 539.5h2M693 539.5h8M722 539.5h5M771 539.5h2M775 539.5h3M797 539.5h1M803 539.5h7M815 539.5h2M841 539.5h2M185 540.5h4M420 540.5h7M433 540.5h6M477 540.5h5M537 540.5h1M681 540.5h2M691 540.5h2M701 540.5h4M717 540.5h5M727 540.5h3M743 540.5h13M769 540.5h2M778 540.5h1M795 540.5h2M817 540.5h2M840 540.5h1M189 541.5h7M417 541.5h3M427 541.5h6M482 541.5h6M536 541.5h1M683 541.5h1M690 541.5h1M705 541.5h4M713 541.5h4M730 541.5h3M738 541.5h5M756 541.5h5M767 541.5h2M779 541.5h3M793 541.5h2M819 541.5h1M839 541.5h1M196 542.5h4M415 542.5h2M488 542.5h2M535 542.5h1M684 542.5h2M688 542.5h2M709 542.5h4M733 542.5h5M761 542.5h6M782 542.5h5M791 542.5h2M820 542.5h2M837 542.5h2M200 543.5h2M412 543.5h3M490 543.5h2M499 543.5h13M531 543.5h4M686 543.5h2M787 543.5h4M822 543.5h4M834 543.5h3M202 544.5h2M238 544.5h2M410 544.5h2M492 544.5h3M496 544.5h3M512 544.5h2M525 544.5h6M826 544.5h3M831 544.5h3M204 545.5h2M236 545.5h2M240 545.5h3M407 545.5h3M495 545.5h1M514 545.5h2M522 545.5h3M829 545.5h2M206 546.5h5M235 546.5h1M243 546.5h2M406 546.5h1M516 546.5h3M520 546.5h2M211 547.5h13M234 547.5h1M245 547.5h3M278 547.5h2M404 547.5h2M519 547.5h1M224 548.5h2M232 548.5h2M248 548.5h3M275 548.5h3M280 548.5h1M369 548.5h8M403 548.5h1M226 549.5h2M231 549.5h1M251 549.5h2M260 549.5h10M273 549.5h2M281 549.5h3M325 549.5h4M365 549.5h4M377 549.5h3M385 549.5h6M401 549.5h2M228 550.5h3M253 550.5h7M270 550.5h3M284 550.5h2M293 550.5h4M309 550.5h3M322 550.5h3M329 550.5h25M363 550.5h2M380 550.5h5M391 550.5h4M399 550.5h2M286 551.5h7M297 551.5h4M305 551.5h4M312 551.5h4M320 551.5h2M354 551.5h3M360 551.5h3M395 551.5h4M301 552.5h4M316 552.5h4M357 552.5h3" fill="none" stroke="#1e90ff" stroke-width="1"/>
</g>
<rect x="5" y="28" width="1164" height="1" fill="#000"/>
<rect x="5" y="419" width="1164" height="1" fill="#000"/>
<rect x="5" y="28" width="1" height="392" fill="#000"/>
<rect x="1168" y="28" width="1" height="392" fill="#000"/>
<rect x="5" y="421" width="1164" height="1" fill="#000"/>
<rect x="5" y="493" width="1164" height="1" fill="#000"/>
<rect x="5" y="421" width="1" height="73" fill="#000"/>
<rect x="1168" y="421" width="1" height="73" fill="#000"/>
<rect x="5" y="495" width="1164" height="1" fill="#000"/>
<rect x="5" y="569" width="1164" height="1" fill="#000"/>
<rect x="5" y="495" width="1" height="75" fill="#000"/>
<rect x="1168" y="495" width="1" height="75" fill="#000"/>
<rect x="1168" y="172" width="1" height="2" fill="#ff0000"/>
<rect x="1168" y="224" width="1" height="2" fill="#ff0000"/>
<rect x="1168" y="272" width="1" height="2" fill="#00ff00"/>
<rect x="1168" y="314" width="1" height="2" fill="#0000ff"/>
<rect x="1168" y="359" width="1" height="2" fill="#0000ff"/>
<rect x="1168" y="402" width="1" height="2" fill="#0000ff"/>
<rect x="1169" y="53" width="2" height="1" fill="#000"/>
<rect x="1169" y="86" width="2" height="1" fill="#000"/>
<rect x="1169" y="119" width="2" height="1" fill="#000"/>
<rect x="1169" y="152" width="2" height="1" fill="#000"/>
<rect x="1169" y="185" width="2" height="1" fill="#000"/>
<rect x="1169" y="218" width="2" height="1" fill="#000"/>
<rect x="1169" y="251" width="2" height="1" fill="#000"/>
<rect x="1169" y="284" width="2" height="1" fill="#000"/>
<rect x="1169" y="317" width="2" height="1" fill="#000"/>
<rect x="1169" y="350" width="2" height="1" fill="#000"/>
<rect x="1169" y="383" width="2" height="1" fill="#000"/>
<rect x="1169" y="416" width="2" height="1" fill="#000"/>
<rect x="1169" y="423" width="1" height="1" fill="#000"/>
<rect x="1169" y="448" width="2" height="1" fill="#000"/>
<rect x="1169" y="492" width="1" height="1" fill="#000"/>
<rect x="1169" y="497" width="1" height="1" fill="#000"/>
<rect x="1169" y="518" width="2" height="1" fill="#000"/>
<rect x="1169" y="547" width="2" height="1" fill="#000"/>
<rect x="1169" y="568" width="1" height="1" fill="#000"/>
<rect x="6" y="570" width="1" height="3" fill="#000"/>
<rect x="70" y="570" width="1" height="3" fill="#000"/>
<rect x="134" y="570" width="1" height="3" fill="#000"/>
<rect x="198" y="570" width="1" height="3" fill="#000"/>
<rect x="262" y="570" width="1" height="3" fill="#000"/>
<rect x="326" y="570" width="1" height="3" fill="#000"/>
<rect x="390" y="570" width="1" height="3" fill="#000"/>
<rect x="454" y="570" width="1" height="3" fill="#000"/>
<rect x="518" y="570" width="1" height="3" fill="#000"/>
<rect x="582" y="570" width="1" height="3" fill="#000"/>
<rect x="646" y="570" width="1" height="3" fill="#000"/>
<rect x="710" y="570" width="1" height="3" fill="#000"/>
<rect x="774" y="570" width="1" height="3" fill="#000"/>
<rect x="838" y="570" width="1" height="3" fill="#000"/>
<rect x="902" y="570" width="1" height="3" fill="#000"/>
</svg>
<div class="t ax" style="left:1174px;top:48px;">7.18260</div>
<div class="t ax" style="left:1174px;top:81px;">7.10100</div>
<div class="t ax" style="left:1174px;top:114px;">7.01940</div>
<div class="t ax" style="left:1174px;top:147px;">6.93780</div>
<div class="t ax" style="left:1174px;top:180px;">6.85620</div>
<div class="t ax" style="left:1174px;top:213px;">6.77700</div>
<div class="t ax" style="left:1174px;top:246px;">6.69540</div>
<div class="t ax" style="left:1174px;top:279px;">6.61380</div>
<div class="t ax" style="left:1174px;top:312px;">6.53220</div>
<div class="t ax" style="left:1174px;top:345px;">6.45060</div>
<div class="t ax" style="left:1174px;top:378px;">6.36900</div>
<div class="t ax" style="left:1174px;top:411px;">6.28980</div>
<div class="t ax" style="left:1172px;top:423px;">0.073986</div>
<div class="t ax" style="left:1172px;top:443px;">0.00</div>
<div class="t ax" style="left:1172px;top:481px;">-0.13041</div>
<div class="t ax" style="left:1172px;top:497px;">100</div>
<div class="t ax" style="left:1172px;top:513px;">70</div>
<div class="t ax" style="left:1172px;top:542px;">30</div>
<div class="t ax" style="left:1172px;top:557px;">0</div>
<div class="lab" style="top:204px;background:#000;"><span>6.79906</span></div>
<div class="lab" style="top:167px;background:#ff0000;"><span>6.88702</span></div>
<div class="lab" style="top:219px;background:#ff0000;"><span>6.75998</span></div>
<div class="lab" style="top:267px;background:#00ff00;"><span>6.64169</span></div>
<div class="lab" style="top:309px;background:#0000ff;"><span>6.53845</span></div>
<div class="lab" style="top:354px;background:#0000ff;"><span>6.42660</span></div>
<div class="lab" style="top:397px;background:#0000ff;"><span>6.32018</span></div>
<div class="t" style="left:5px;top:573px;transform:scaleX(0.974);">1 Mar 2020</div>
<div class="t" style="left:69px;top:573px;transform:scaleX(0.985);">26 Apr 2020</div>
<div class="t" style="left:133px;top:573px;transform:scaleX(0.937);">21 Jun 2020</div>
<div class="t" style="left:197px;top:573px;transform:scaleX(0.990);">16 Aug 2020</div>
<div class="t" style="left:261px;top:573px;transform:scaleX(0.979);">11 Oct 2020</div>
<div class="t" style="left:325px;top:573px;transform:scaleX(0.950);">6 Dec 2020</div>
<div class="t" style="left:389px;top:573px;transform:scaleX(0.928);">31 Jan 2021</div>
<div class="t" style="left:453px;top:573px;transform:scaleX(0.957);">28 Mar 2021</div>
<div class="t" style="left:517px;top:573px;transform:scaleX(0.967);">23 May 2021</div>
<div class="t" style="left:581px;top:573px;transform:scaleX(0.954);">18 Jul 2021</div>
<div class="t" style="left:645px;top:573px;transform:scaleX(0.947);">12 Sep 2021</div>
<div class="t" style="left:709px;top:573px;transform:scaleX(0.990);">7 Nov 2021</div>
<div class="t" style="left:773px;top:573px;transform:scaleX(0.937);">2 Jan 2022</div>
<div class="t" style="left:837px;top:573px;transform:scaleX(0.966);">27 Feb 2022</div>
<div class="t" style="left:901px;top:573px;transform:scaleX(0.970);">24 Apr 2022</div>
<svg width="8" height="5" style="left:9px;top:35px;" shape-rendering="crispEdges"><path d="M3 0h1v1h1v1h1v1h1v1h-7v-1h1v-1h1v-1h1z" fill="#000"/></svg>
<div class="t" style="left:21px;top:31px;transform:scaleX(0.99);" id="ttl">USDCNH-,Weekly</div>
<div class="t" style="left:105px;top:31px;" id="ohlc">6.72206 6.83649 6.70892 6.79906</div>
<div class="t" style="left:10px;top:425px;transform:scaleX(0.963);" id="macdl">MACD(12,26,9) 0.064695 0.004156</div>
<div class="t" style="left:10px;top:499px;transform:scaleX(0.96);" id="rsil">RSI(14) 84.3645</div>
<div class="abs" style="left:6px;top:46px;width:224px;height:61px;background:#fff;"></div>
<div class="abs" id="panel" style="left:9px;top:48px;width:219px;height:57px;background:#fff;">
<svg width="219" height="57" viewBox="0 0 219 57" style="left:0;top:0;">
<defs><linearGradient id="pg" gradientUnits="userSpaceOnUse" x1="0" y1="0" x2="0" y2="57"><stop offset="0" stop-color="#5a5afc"/><stop offset="0.43" stop-color="#3636de"/><stop offset="1" stop-color="#0000a0"/></linearGradient>
<linearGradient id="bg" x1="0" y1="0" x2="0" y2="1"><stop offset="0" stop-color="#f3f3f3"/><stop offset="0.33" stop-color="#e6e6e6"/><stop offset="0.34" stop-color="#d9d9d9"/><stop offset="1" stop-color="#d2d2d2"/></linearGradient></defs>
<g shape-rendering="crispEdges">
<path d="M0.5 0.5H51.5V24.5H108.5V56.5H0.5Z" fill="url(#pg)" stroke="#0000a8" stroke-opacity="0.8"/>
<path d="M167.5 0.5H218.5V56.5H111.5V24.5H167.5Z" fill="url(#pg)" stroke="#0000a8" stroke-opacity="0.8"/>
<rect x="4" y="23" width="44" height="1" fill="#0a0a8c"/><rect x="4" y="24" width="44" height="1" fill="#8484f4"/>
<rect x="171" y="23" width="44" height="1" fill="#0a0a8c"/><rect x="171" y="24" width="44" height="1" fill="#8484f4"/>
<rect x="54.5" y="0.5" width="110" height="21" fill="#fff" stroke="#a9abb3"/>
<rect x="56" y="2" width="18" height="18" fill="url(#bg)"/><rect x="75" y="1" width="1" height="20" fill="#a9abb3"/>
<rect x="145" y="2" width="18" height="18" fill="url(#bg)"/><rect x="143" y="1" width="1" height="20" fill="#a9abb3"/>
<rect x="62" y="9" width="5" height="1" fill="#4f62d6"/><rect x="63" y="10" width="3" height="1" fill="#3c4a9c"/><rect x="64" y="11" width="1" height="1" fill="#30386c"/>
<rect x="153" y="9" width="1" height="1" fill="#30386c"/><rect x="152" y="10" width="3" height="1" fill="#3c4a9c"/><rect x="151" y="11" width="5" height="1" fill="#4f62d6"/>
</g>
<g font-family="Liberation Sans, sans-serif" fill="#fff" text-rendering="geometricPrecision">
<text id="s2" x="46" y="53" font-size="35.5" letter-spacing="-1.3" stroke="url(#pg)" stroke-width="0.45">90</text>
<text id="b2" x="156.6" y="53" font-size="35" letter-spacing="2.2" stroke="url(#pg)" stroke-width="0.45">11</text>
<text id="s1" x="16.6" y="52.2" font-size="11" font-weight="bold" transform="scale(1.18,1)">6.79</text>
<text id="b1" x="109.8" y="52.2" font-size="11" font-weight="bold" transform="scale(1.18,1)">6.80</text>
</g></svg>
<div class="abs" id="lots" style="left:100px;top:3px;width:40.5px;text-align:right;font-size:12.5px;line-height:16px;">2.00</div>
<div class="abs" id="sell" style="left:0;top:3px;width:51px;text-align:center;font-size:11.5px;line-height:17px;color:#fff;letter-spacing:-0.7px;">SELL</div>
<div class="abs" id="buy" style="left:165px;top:3px;width:52px;text-align:center;font-size:11.5px;line-height:17px;color:#fff;letter-spacing:-0.3px;">BUY</div>
<div class="abs" id="s3" style="left:87.5px;top:26px;font-size:11.5px;font-weight:bold;line-height:12px;color:#fff;">6</div>
<div class="abs" id="b3" style="left:199px;top:26px;font-size:11.5px;font-weight:bold;line-height:12px;color:#fff;">7</div>
</div>
<div class="abs" style="left:3px;top:590px;width:1205px;height:1px;background:#e3e3e3;"></div>
<div class="abs" style="left:3px;top:591px;width:1205px;height:1px;background:#f0f0f0;"></div>
<div class="abs" style="left:1px;top:592px;width:1207px;height:1px;background:#000;"></div>
<div class="abs" style="left:3px;top:593px;width:1205px;height:19px;background:#f0f0f0;"></div>
<div class="abs" style="left:0;top:610px;width:3px;height:1px;background:#696969;"></div>
<div class="abs" style="left:0;top:611px;width:1208px;height:1px;background:#f0f0f0;"></div>
<div class="abs" style="left:0;top:612px;width:1208px;height:4px;background:#fff;"></div>
<div class="abs" style="left:0;top:616px;width:1208px;height:1px;background:#a0a0a0;"></div>
<div class="abs" style="left:0;top:617px;width:1208px;height:1px;background:#e6e6e6;"></div>
<div class="abs" style="left:539px;top:593px;width:125px;height:18px;background:#a0a0a0;"></div>
<div class="abs" style="left:539px;top:593px;width:124px;height:18px;background:#000;"></div>
<div class="abs" style="left:540px;top:592px;width:122px;height:18px;background:#fff;"></div>
<div class="tab" style="left:18px;letter-spacing:0.3px;margin-left:-1px;">USDX,Weekly</div>
<div class="tab" style="left:118px;letter-spacing:0.08px;margin-left:-1px;">EURUSD-,Daily</div>
<div class="tab" style="left:225px;letter-spacing:0.08px;">AUDUSD-,Daily</div>
<div class="tab" style="left:335px;letter-spacing:0.08px;margin-left:-1px;">USDCHF-,Daily</div>
<div class="tab" style="left:442px;letter-spacing:0.17px;margin-left:-1px;">USDCAD-,Daily</div>
<div class="tab" style="left:551px;color:#000;letter-spacing:0.31px;margin-left:-1px;">USDCNH-,Weekly</div>
<div class="tab" style="left:674px;letter-spacing:0.25px;margin-left:-1px;">XAUUSD-,Daily</div>
<div class="tab" style="left:782px;letter-spacing:0.45px;margin-left:-1px;">UKOil-,Daily</div>
<div class="tab" style="left:875px;letter-spacing:0.3px;margin-left:-1px;">DJ30-,Daily</div>
<div class="tab" style="left:962px;letter-spacing:0.5px;margin-left:-1px;">UK100-,H1</div>
<div class="tab" style="left:1047px;letter-spacing:0.36px;margin-left:-1px;">USOil-,Daily</div>
<div class="tab" style="left:1137px;letter-spacing:0.4px;margin-left:-1px;">HK50-,Daily</div>
<div class="sep" style="left:107px;"></div>
<div class="sep" style="left:214px;"></div>
<div class="sep" style="left:323px;"></div>
<div class="sep" style="left:431px;"></div>
<div class="sep" style="left:771px;"></div>
<div class="sep" style="left:862px;"></div>
<div class="sep" style="left:951px;"></div>
<div class="sep" style="left:1035px;"></div>
<div class="sep" style="left:1127px;"></div>
<div class="abs" style="left:1178px;top:593px;width:30px;height:18px;background:#f0f0f0;"></div>
<svg width="4" height="7" style="left:1184px;top:598px;"><path d="M4 0v7l-4 -3.5z" fill="#8a8a8a"/></svg>
<svg width="4" height="7" style="left:1203px;top:598px;"><path d="M0 0v7l4 -3.5z" fill="#000"/></svg>
</body></html>
